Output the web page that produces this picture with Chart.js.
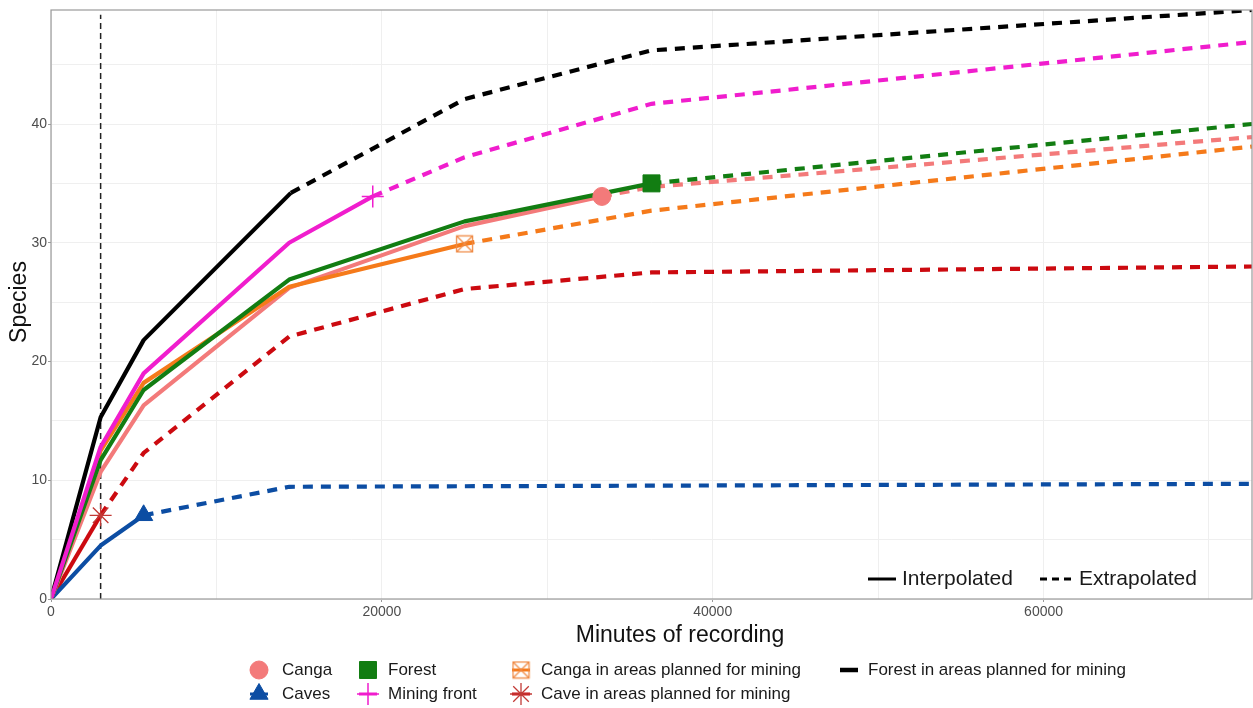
<!DOCTYPE html>
<html>
<head>
<meta charset="utf-8">
<script src="https://cdn.jsdelivr.net/npm/chart.js@4/dist/chart.umd.min.js"></script>
<style>
  html, body { margin: 0; padding: 0; background: #fff; }
  #wrap { width: 1253px; height: 708px; }
</style>
</head>
<body>
<div id="wrap"><canvas id="chart" width="1253" height="708"></canvas></div>
<script>
// species accumulation curves
// *ObsX/*ObsY = interpolated part, *ExtX/*ExtY = extrapolated part
const cangaObsX = [0, 3000, 5600, 14400, 25000, 33300];
const cangaObsY = [0, 10.7, 16.3, 26.2, 31.4, 33.9];
const cangaExtX = [33300, 36300, 72600];
const cangaExtY = [33.9, 34.7, 38.9];

const cavesObsX = [0, 3000, 5600];
const cavesObsY = [0, 4.5, 7.05];
const cavesExtX = [5600, 14400, 72600];
const cavesExtY = [7.05, 9.45, 9.7];

const forestObsX = [0, 3000, 5600, 14400, 25000, 36300];
const forestObsY = [0, 11.7, 17.6, 26.9, 31.8, 35.0];
const forestExtX = [36300, 72600];
const forestExtY = [35.0, 40.0];

const frontObsX = [0, 3000, 5600, 14400, 19450];
const frontObsY = [0, 12.8, 19.0, 30.0, 33.9];
const frontExtX = [19450, 25000, 36300, 72600];
const frontExtY = [33.9, 37.2, 41.7, 46.9];

const cangaMinObsX = [0, 3000, 5600, 14400, 25000];
const cangaMinObsY = [0, 12.5, 18.2, 26.3, 29.9];
const cangaMinExtX = [25000, 36300, 72600];
const cangaMinExtY = [29.9, 32.7, 38.1];

const caveMinObsX = [0, 3000];
const caveMinObsY = [0, 7.05];
const caveMinExtX = [3000, 5600, 14400, 25000, 36300, 72600];
const caveMinExtY = [7.05, 12.3, 22.1, 26.1, 27.5, 28.0];

const forestMinObsX = [0, 3000, 5600, 14500];
const forestMinObsY = [0, 15.3, 21.8, 34.2];
const forestMinExtX = [14500, 25000, 36300, 72600];
const forestMinExtY = [34.2, 42.1, 46.2, 49.6];

const xTicks = [0, 10000, 20000, 30000, 40000, 50000, 60000, 70000];
const yTicks = [0, 5, 10, 15, 20, 25, 30, 35, 40, 45];
const cutoffMinutes = 3000;   // vertical dashed line
const xMax = 72600;
const yMax = 49.6;

const FONT = "'Liberation Sans', Arial, Helvetica, sans-serif";

function pts(xs, ys) {
  return xs.map((x, i) => ({ x: x, y: ys[i] }));
}

// open square with an X, for "Canga in areas planned for mining"
function crossedBox(color) {
  const c = document.createElement("canvas");
  c.width = 19; c.height = 19;
  const g = c.getContext("2d");
  g.strokeStyle = color;
  g.lineWidth = 1.3;
  g.strokeRect(1.5, 1.5, 16, 16);
  g.beginPath();
  g.moveTo(1.5, 1.5); g.lineTo(17.5, 17.5);
  g.moveTo(17.5, 1.5); g.lineTo(1.5, 17.5);
  g.stroke();
  return c;
}

const groups = [
  { name: "Canga", color: "#f37a7a", obs: pts(cangaObsX, cangaObsY), ext: pts(cangaExtX, cangaExtY),
    marker: { style: "circle", radius: 9, color: "#f37a7a", width: 1, fill: true } },
  { name: "Caves", color: "#0c4da3", obs: pts(cavesObsX, cavesObsY), ext: pts(cavesExtX, cavesExtY),
    marker: { style: "triangle", radius: 10.5, color: "#0c4da3", width: 1, fill: true } },
  { name: "Forest", color: "#127d12", obs: pts(forestObsX, forestObsY), ext: pts(forestExtX, forestExtY),
    marker: { style: "rect", radius: 12, color: "#127d12", width: 1, fill: true } },
  { name: "Mining front", color: "#f01dcd", obs: pts(frontObsX, frontObsY), ext: pts(frontExtX, frontExtY),
    marker: { style: "cross", radius: 11, color: "#f01dcd", width: 1.5, fill: false } },
  { name: "Canga in areas planned for mining", color: "#f57a1a", obs: pts(cangaMinObsX, cangaMinObsY), ext: pts(cangaMinExtX, cangaMinExtY),
    marker: { style: crossedBox("#ef8a45"), radius: 9, color: "#ef8a45", width: 1, fill: false } },
  { name: "Cave in areas planned for mining", color: "#cc0a10", obs: pts(caveMinObsX, caveMinObsY), ext: pts(caveMinExtX, caveMinExtY),
    marker: { style: "star", radius: 11, color: "#c23a36", width: 1.3, fill: false } },
  { name: "Forest in areas planned for mining", color: "#000000", obs: pts(forestMinObsX, forestMinObsY), ext: pts(forestMinExtX, forestMinExtY),
    marker: null }
];

// drawing order roughly as in the figure (first dataset ends up on top)
const drawOrder = ["Mining front", "Forest in areas planned for mining", "Forest",
  "Canga in areas planned for mining", "Canga", "Caves", "Cave in areas planned for mining"];

const datasets = [];
// markers on top of everything
groups.forEach((g) => {
  if (!g.marker) return;
  const last = g.obs[g.obs.length - 1];
  datasets.push({
    label: g.name + " (ref)",
    data: [last],
    showLine: false,
    pointStyle: g.marker.style,
    pointRadius: g.marker.radius,
    pointBorderWidth: g.marker.width,
    pointBackgroundColor: g.marker.fill ? g.marker.color : "rgba(0,0,0,0)",
    pointBorderColor: g.marker.color,
  });
});
drawOrder.forEach((n) => {
  const g = groups.find((q) => q.name === n);
  datasets.push({
    label: g.name,
    data: g.obs,
    showLine: true,
    borderColor: g.color,
    borderWidth: 4.2,
    borderJoinStyle: "round",
    pointRadius: 0,
  });
  datasets.push({
    label: g.name + " (extrapolated)",
    data: g.ext,
    showLine: true,
    borderColor: g.color,
    borderWidth: 4.2,
    borderDash: [10, 8],
    pointRadius: 0,
  });
});
datasets.push({
  label: "cutoff",
  data: [{ x: cutoffMinutes, y: 0 }, { x: cutoffMinutes, y: yMax - 0.4 }],
  showLine: true,
  borderColor: "#222",
  borderWidth: 1.5,
  borderDash: [6, 4],
  pointRadius: 0,
});

function drawKey(ctx, g, cx, cy) {
  ctx.save();
  ctx.strokeStyle = g.color;
  ctx.lineWidth = g.marker ? 3 : 4.5;
  ctx.beginPath();
  ctx.moveTo(cx - 9, cy);
  ctx.lineTo(cx + 9, cy);
  ctx.stroke();
  if (g.marker && Chart.helpers && Chart.helpers.drawPoint) {
    ctx.fillStyle = g.marker.fill ? g.marker.color : "rgba(0,0,0,0)";
    ctx.strokeStyle = g.marker.color;
    ctx.lineWidth = g.marker.width;
    Chart.helpers.drawPoint(ctx, { pointStyle: g.marker.style, radius: g.marker.radius, rotation: 0, borderWidth: g.marker.width }, cx, cy);
  }
  ctx.restore();
}

const legendLayout = [
  { name: "Canga", col: 0, row: 0 },
  { name: "Caves", col: 0, row: 1 },
  { name: "Forest", col: 1, row: 0 },
  { name: "Mining front", col: 1, row: 1 },
  { name: "Canga in areas planned for mining", col: 2, row: 0 },
  { name: "Cave in areas planned for mining", col: 2, row: 1 },
  { name: "Forest in areas planned for mining", col: 3, row: 0 }
];
const legendKeyX = [259, 368, 521, 849];
const legendTextX = [282, 388, 541, 868];
const legendRowY = [670, 694];

const decorations = {
  id: "decorations",
  beforeDraw(chart) {
    const ctx = chart.ctx;
    ctx.save();
    ctx.fillStyle = "#fff";
    ctx.fillRect(0, 0, chart.width, chart.height);
    ctx.restore();
  },
  afterDraw(chart) {
    const ctx = chart.ctx;
    const a = chart.chartArea;
    ctx.save();
    // panel border
    ctx.strokeStyle = "#9a9a9a";
    ctx.lineWidth = 1.2;
    ctx.strokeRect(a.left, a.top, a.right - a.left, a.bottom - a.top);

    // axis titles
    ctx.fillStyle = "#111";
    ctx.font = "23px " + FONT;
    ctx.textAlign = "center";
    ctx.textBaseline = "middle";
    ctx.fillText("Minutes of recording", 680, 636);
    ctx.save();
    ctx.translate(20, 302);
    ctx.rotate(-Math.PI / 2);
    ctx.fillText("Species", 0, 0);
    ctx.restore();

    // Interpolated / Extrapolated key inside the panel
    ctx.strokeStyle = "#000";
    ctx.lineWidth = 3;
    ctx.beginPath();
    ctx.moveTo(868, 579); ctx.lineTo(896, 579);
    ctx.stroke();
    ctx.setLineDash([7, 5]);
    ctx.beginPath();
    ctx.moveTo(1040, 579); ctx.lineTo(1073, 579);
    ctx.stroke();
    ctx.setLineDash([]);
    ctx.fillStyle = "#1a1a1a";
    ctx.font = "21px " + FONT;
    ctx.textAlign = "left";
    ctx.fillText("Interpolated", 902, 579);
    ctx.fillText("Extrapolated", 1079, 579);

    // bottom legend
    ctx.font = "17px " + FONT;
    legendLayout.forEach((it) => {
      const g = groups.find((q) => q.name === it.name);
      const y = legendRowY[it.row];
      drawKey(ctx, g, legendKeyX[it.col], y);
      ctx.fillStyle = "#1a1a1a";
      ctx.textAlign = "left";
      ctx.textBaseline = "middle";
      ctx.fillText(it.name, legendTextX[it.col], y);
    });
    ctx.restore();
  }
};

new Chart(document.getElementById("chart").getContext("2d"), {
  type: "scatter",
  data: { datasets: datasets },
  plugins: [decorations],
  options: {
    responsive: false,
    animation: false,
    layout: { autoPadding: false, padding: { top: 10, right: 1, bottom: 87, left: 0 } },
    plugins: { legend: { display: false }, tooltip: { enabled: false } },
    elements: { line: { tension: 0 } },
    scales: {
      x: {
        type: "linear",
        min: 0,
        max: xMax,
        afterBuildTicks: (s) => { s.ticks = xTicks.map((v) => ({ value: v })); },
        afterFit: (s) => { s.height = 22; s.paddingLeft = 0; s.paddingRight = 0; },
        border: { display: false },
        grid: {
          color: "#efefef", lineWidth: 1, tickLength: 3,
          tickColor: (c) => (c.tick && c.tick.value % 20000 === 0 ? "#9a9a9a" : "rgba(0,0,0,0)")
        },
        ticks: {
          padding: 2,
          maxRotation: 0,
          autoSkip: false,
          color: "#4d4d4d",
          font: { family: FONT, size: 14 },
          callback: (v) => (v % 20000 === 0 ? String(v) : "")
        }
      },
      y: {
        type: "linear",
        min: 0,
        max: yMax,
        afterBuildTicks: (s) => { s.ticks = yTicks.map((v) => ({ value: v })); },
        afterFit: (s) => { s.width = 51; s.paddingTop = 0; s.paddingBottom = 0; },
        border: { display: false },
        grid: {
          color: "#efefef", lineWidth: 1, tickLength: 3,
          tickColor: (c) => (c.tick && c.tick.value % 10 === 0 ? "#9a9a9a" : "rgba(0,0,0,0)")
        },
        ticks: {
          padding: 1,
          autoSkip: false,
          color: "#4d4d4d",
          font: { family: FONT, size: 14 },
          callback: (v) => (v % 10 === 0 ? String(v) : "")
        }
      }
    }
  }
});
</script>
</body>
</html>
